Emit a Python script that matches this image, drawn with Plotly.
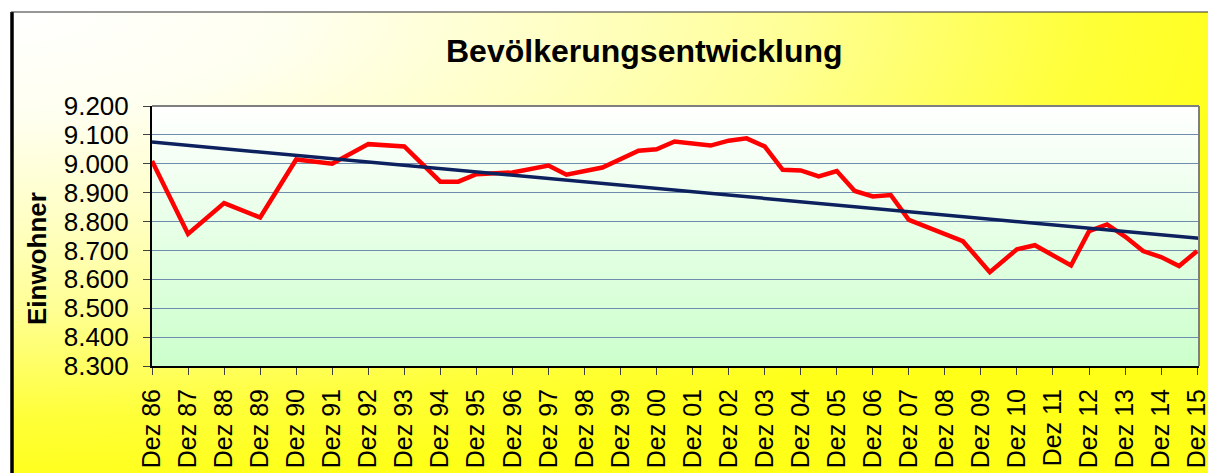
import base64
import plotly.graph_objects as go

# ---------------- data ----------------
dates = [
    "1986-12-01", "1987-12-01", "1988-12-01", "1989-12-01", "1990-12-01",
    "1991-12-01", "1992-12-01", "1993-12-01", "1994-12-01", "1995-06-01",
    "1995-12-01", "1996-12-01", "1997-12-01", "1998-06-01", "1999-06-01",
    "2000-06-01", "2000-12-01", "2001-06-01", "2002-06-01", "2002-12-01",
    "2003-06-01", "2003-12-01", "2004-06-01", "2004-12-01", "2005-06-01",
    "2005-12-01", "2006-06-01", "2006-12-01", "2007-06-01", "2007-12-01",
    "2009-06-01", "2010-03-01", "2010-12-01", "2011-06-01", "2012-06-01",
    "2012-12-01", "2013-06-01", "2013-12-01", "2014-06-01", "2014-12-01",
    "2015-06-01", "2015-12-01",
]
einwohner = [
    9010, 8757, 8864, 8814, 9015,
    9000, 9068, 9060, 8938, 8938,
    8964, 8970, 8994, 8962, 8987,
    9045, 9050, 9077, 9063, 9080,
    9088, 9060, 8979, 8977, 8956,
    8975, 8906, 8887, 8892, 8806,
    8732, 8625, 8704, 8718, 8648,
    8767, 8790, 8748, 8698, 8677,
    8646, 8698,
]
trend_dates = ["1986-12-01", "2015-12-20"]
trend_values = [9075, 8742]

tick_dates = [f"{y}-12-01" for y in range(1986, 2016)]
tick_labels = [f"Dez {y % 100:02d}" for y in range(1986, 2016)]

title_text = "Bevölkerungsentwicklung"
y_title = "Einwohner"

# ---------------- layout geometry ----------------
W, H = 1208, 473
ML, MR, MT, MB = 152, 9, 106, 107
PW, PH = W - ML - MR, H - MT - MB


def px_x(px):
    return (px - ML) / PW


def px_y(py):
    return (H - MB - py) / PH


def svg_uri(svg):
    return "data:image/svg+xml;base64," + base64.b64encode(svg.encode()).decode()


outer_svg = (
    '<svg xmlns="http://www.w3.org/2000/svg" width="100" height="100" viewBox="0 0 100 100" preserveAspectRatio="none">'
    '<defs><radialGradient id="g" cx="0" cy="0" r="1" fx="0" fy="0" gradientUnits="objectBoundingBox">'
    '<stop offset="0" stop-color="#ffffff"/>'
    '<stop offset="0.22" stop-color="#fffff0"/>'
    '<stop offset="0.42" stop-color="#ffffc8"/>'
    '<stop offset="0.62" stop-color="#ffff96"/>'
    '<stop offset="0.85" stop-color="#ffff38"/>'
    '<stop offset="1" stop-color="#ffff18"/>'
    '</radialGradient></defs>'
    '<rect x="0" y="0" width="100" height="100" fill="url(#g)"/></svg>'
)
inner_svg = (
    '<svg xmlns="http://www.w3.org/2000/svg" width="100" height="100" viewBox="0 0 100 100" preserveAspectRatio="none">'
    '<defs><linearGradient id="g" x1="0" y1="0" x2="0" y2="1">'
    '<stop offset="0" stop-color="#ffffff"/>'
    '<stop offset="1" stop-color="#ccffcc"/>'
    '</linearGradient></defs>'
    '<rect x="0" y="0" width="100" height="100" fill="url(#g)"/></svg>'
)

OUT_L, OUT_T, OUT_R, OUT_B = 11, 12, 1280, 490

fig = go.Figure()
fig.add_trace(go.Scatter(
    x=dates, y=einwohner, mode="lines",
    line=dict(color="#ff0000", width=4.5), hoverinfo="x+y",
))
fig.add_trace(go.Scatter(
    x=trend_dates, y=trend_values, mode="lines",
    line=dict(color="#0c215e", width=3.5), hoverinfo="skip",
))

font_family = "Liberation Sans, Arial, sans-serif"

fig.update_layout(
    width=W, height=H,
    margin=dict(l=ML, r=MR, t=MT, b=MB, pad=0, autoexpand=False),
    paper_bgcolor="#ffffff",
    plot_bgcolor="rgba(0,0,0,0)",
    showlegend=False,
    separators=",.",
    font=dict(family=font_family, color="#000000"),
    images=[
        dict(source=svg_uri(outer_svg), xref="paper", yref="paper",
             x=px_x(OUT_L), y=px_y(OUT_T), sizex=(OUT_R - OUT_L) / PW,
             sizey=(OUT_B - OUT_T) / PH, xanchor="left", yanchor="top",
             sizing="stretch", layer="below"),
        dict(source=svg_uri(inner_svg), xref="paper", yref="paper",
             x=0, y=1, sizex=1, sizey=1, xanchor="left", yanchor="top",
             sizing="stretch", layer="below"),
    ],
    xaxis=dict(
        type="date",
        range=[trend_dates[0], trend_dates[1]],
        automargin=False,
        tickmode="array", tickvals=tick_dates, ticktext=tick_labels,
        tickangle=-90, tickfont=dict(size=25, family=font_family, color="#000000"),
        ticks="outside", ticklen=7, tickcolor="#404040", tickwidth=1,
        showgrid=False, zeroline=False,
        showline=True, linecolor="#000000", linewidth=2,
        ticklabelstandoff=4, ticklabeloverflow="allow",
    ),
    yaxis=dict(
        range=[8300, 9200], dtick=100, tick0=8300, tickformat=",.0f",
        automargin=False,
        tickfont=dict(size=26, family=font_family, color="#000000"),
        ticks="outside", ticklen=7, tickcolor="#404040", tickwidth=1,
        showgrid=True, gridcolor="#6f8bad", gridwidth=1,
        zeroline=False,
        showline=True, linecolor="#000000", linewidth=2,
        ticklabelstandoff=9,
    ),
    shapes=[
        dict(type="line", xref="paper", yref="paper",
             x0=px_x(12), x1=px_x(12), y0=px_y(OUT_T), y1=px_y(OUT_B),
             line=dict(color="#000000", width=3.5), layer="above"),
        dict(type="line", xref="paper", yref="paper",
             x0=px_x(OUT_L), x1=px_x(OUT_R), y0=px_y(OUT_T), y1=px_y(OUT_T),
             line=dict(color="#303030", width=1.2), layer="above"),
        dict(type="line", xref="paper", yref="paper",
             x0=0, x1=1, y0=1, y1=1,
             line=dict(color="#7f7f7f", width=2), layer="above"),
        dict(type="line", xref="paper", yref="paper",
             x0=1, x1=1, y0=0, y1=1,
             line=dict(color="#7f7f7f", width=2), layer="above"),
    ],
    annotations=[
        dict(text=f"<b>{title_text}</b>", xref="paper", yref="paper",
             x=px_x(644), y=px_y(51), xanchor="center", yanchor="middle",
             showarrow=False, font=dict(size=32, family=font_family, color="#000000")),
        dict(text=f"<b>{y_title}</b>", xref="paper", yref="paper",
             x=px_x(37), y=px_y(259), xanchor="center", yanchor="middle",
             textangle=-90, showarrow=False,
             font=dict(size=26, family=font_family, color="#000000")),
    ],
)

fig.write_html(
    "out.html",
    config={"displayModeBar": False},
    post_script="document.body.style.margin='0';document.body.style.overflow='hidden';",
)
